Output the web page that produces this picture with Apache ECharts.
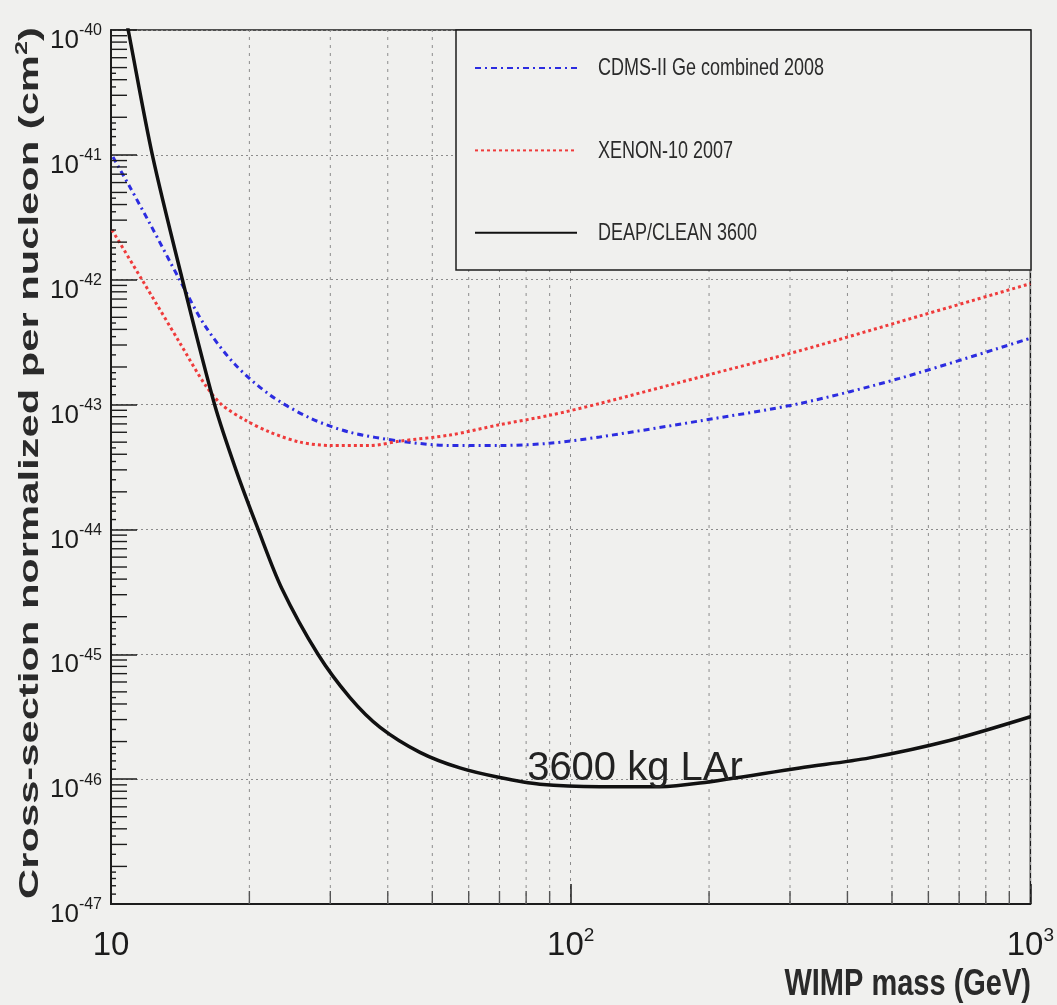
<!DOCTYPE html>
<html>
<head>
<meta charset="utf-8">
<title>WIMP-nucleon cross-section limits</title>
<script src="https://cdn.jsdelivr.net/npm/echarts@6/dist/echarts.min.js"></script>
<style>
  html, body { margin: 0; padding: 0; background: #f0f0ee; }
  #chart { width: 1057px; height: 1005px; }
</style>
</head>
<body>
<div id="chart"></div>
<script>
// ---- data: WIMP mass (GeV) and spin-independent cross-section per nucleon (cm^2) ----
const cdmsMass  = [10.1, 11.0, 12.16, 14.1, 16.0, 18.6, 22.2, 27.1, 33.1, 42.5, 54.6, 70.1, 90, 115.6, 191, 315, 519, 1000];
const cdmsSigma = [9.6e-42, 5.5e-42, 2.8e-42, 1.0e-42, 4.3e-43, 2.1e-43, 1.19e-43, 7.8e-44, 6.0e-44, 5.1e-44, 4.7e-44, 4.7e-44, 4.9e-44, 5.5e-44, 7.4e-44, 1.02e-43, 1.62e-43, 3.4e-43];

const xenonMass  = [10.05, 11.68, 14.13, 16.0, 17.4, 19.6, 22.2, 25.8, 30.0, 36.6, 42.5, 54.6, 70.1, 90, 115.6, 191, 315, 519, 1000];
const xenonSigma = [2.5e-42, 1.0e-42, 3.1e-43, 1.45e-43, 1.0e-43, 7.5e-44, 6.0e-44, 5.0e-44, 4.7e-44, 4.7e-44, 5.1e-44, 5.7e-44, 6.9e-44, 8.2e-44, 1.02e-43, 1.66e-43, 2.7e-43, 4.6e-43, 9.3e-43];

const deapMass  = [10.5, 10.9, 12.3, 14.3, 16.8, 18.7, 20.9, 23.5, 28.2, 33.1, 38.5, 47.0, 57.4, 70.1, 85.7, 115.6, 156, 191, 315, 447, 667, 1000];
const deapSigma = [2.0e-40, 1.0e-40, 1.0e-41, 1.0e-42, 1.0e-43, 3.0e-44, 1.0e-44, 3.4e-45, 1.0e-45, 4.5e-46, 2.6e-46, 1.64e-46, 1.23e-46, 1.03e-46, 9.1e-47, 8.7e-47, 8.7e-47, 9.3e-47, 1.23e-46, 1.48e-46, 2.04e-46, 3.16e-46];

const seriesNames = ['CDMS-II Ge combined 2008', 'XENON-10 2007', 'DEAP/CLEAN 3600'];
const curveNote = '3600 kg LAr';
const notePoint = [138, 1.2e-46];

// axis ranges and tick mantissas
const massRange = [10, 1000];
const sigmaExpRange = [-47, -40];          // cross-section axis, in decades
const massDecades = [10, 100];
const sigmaExponents = [-47, -46, -45, -44, -43, -42, -41];
const minorMantissas = [2, 3, 4, 5, 6, 7, 8, 9];
const tinyMantissas = [1.2, 1.4, 1.6, 1.8, 2.5, 3.5, 4.5];

// the cross-section axis is drawn in log10 units (cm^2 values are converted here)
const lg = v => Math.log10(v);
const pairs = (xs, ys) => xs.map((x, i) => [x, lg(ys[i])]);
const massMinor = [];
massDecades.forEach(d => minorMantissas.forEach(k => massMinor.push(k * d)));
const sigmaMinor = [], sigmaTiny = [];
sigmaExponents.forEach(e => {
  minorMantissas.forEach(k => sigmaMinor.push(k * Math.pow(10, e)));
  tinyMantissas.forEach(k => sigmaTiny.push(k * Math.pow(10, e)));
});

const FONT = "'Liberation Sans', Arial, Helvetica, sans-serif";
const INK = '#1c1c1c';
const TEXT = '#2a2a2a';

// short inward ticks on the left axis
function yTickSeries(values, len) {
  return {
    type: 'custom', silent: true, z: 3, clip: true,
    data: values.map(v => [massRange[0], lg(v)]),
    renderItem: (params, api) => {
      const p = api.coord([api.value(0), api.value(1)]);
      return { type: 'line', shape: { x1: p[0], y1: p[1], x2: p[0] + len, y2: p[1] },
               style: { stroke: INK, lineWidth: 1.4 } };
    }
  };
}

// dotted vertical grid + inward bottom tick at each minor mass value
const massGridSeries = {
  type: 'custom', silent: true, z: 1, clip: true,
  data: massMinor.map(v => [v, sigmaExpRange[0]]),
  renderItem: (params, api) => {
    const v = api.value(0);
    const b = api.coord([v, sigmaExpRange[0]]);
    const t = api.coord([v, sigmaExpRange[1]]);
    return { type: 'group', children: [
      { type: 'line', shape: { x1: b[0], y1: b[1], x2: t[0], y2: t[1] },
        style: { stroke: '#8c8c8c', lineWidth: 1, lineDash: [3, 5] } },
      { type: 'line', shape: { x1: b[0], y1: b[1], x2: b[0], y2: b[1] - 13 },
        style: { stroke: '#555', lineWidth: 1.4 } }
    ] };
  }
};

// legend labels, drawn slightly tall like the frame's other lettering
const legendRows = [69, 152, 234];
const legendLabels = seriesNames.map((name, i) => ({
  type: 'text', z: 7, silent: true, x: 598, y: legendRows[i], scaleY: 1.3,
  style: { text: name, fontSize: 18, fontFamily: FONT, fill: TEXT, align: 'left', verticalAlign: 'middle' }
}));

const chart = echarts.init(document.getElementById('chart'), null, { renderer: 'canvas' });

chart.setOption({
  animation: false,
  backgroundColor: '#f0f0ee',
  grid: { left: 111, right: 26, top: 30, bottom: 101, show: true,
          borderColor: INK, borderWidth: 1.5, backgroundColor: '#f0f0ee' },
  xAxis: {
    type: 'log', logBase: 10, min: massRange[0], max: massRange[1],
    axisLine: { show: true, onZero: false, lineStyle: { color: INK, width: 2 } },
    axisTick: { show: true, inside: true, length: 20, lineStyle: { color: INK, width: 1.5 } },
    splitLine: { show: true, lineStyle: { color: '#8c8c8c', width: 1, type: [3, 5] } },
    axisLabel: {
      margin: 22, color: INK,
      formatter: v => {
        const e = Math.round(Math.log10(v));
        return e === 1 ? '{b|10}' : '{b|10}{s|' + e + '}';
      },
      rich: {
        b: { fontSize: 33, lineHeight: 40, fontFamily: FONT, color: INK },
        s: { fontSize: 19, lineHeight: 12, verticalAlign: 'top', fontFamily: FONT, color: INK }
      }
    }
  },
  yAxis: {
    type: 'value', min: sigmaExpRange[0], max: sigmaExpRange[1], interval: 1,
    axisLine: { show: true, onZero: false, lineStyle: { color: INK, width: 2 } },
    axisTick: { show: true, inside: true, length: 26, lineStyle: { color: INK, width: 1.5 } },
    splitLine: { show: true, lineStyle: { color: '#8c8c8c', width: 1, type: [2, 3] } },
    axisLabel: {
      margin: 9, color: INK, padding: [22, 0, 0, 0],
      formatter: v => '{b|10}{s|' + Math.round(v) + '}',
      rich: {
        b: { fontSize: 26, lineHeight: 36, fontFamily: FONT, color: INK },
        s: { fontSize: 16, lineHeight: 10, verticalAlign: 'top', fontFamily: FONT, color: INK }
      }
    }
  },
  legend: {
    data: seriesNames,
    orient: 'vertical', left: 474, top: 60, padding: 0,
    itemWidth: 102, itemHeight: 16, itemGap: 68, z: 6,
    itemStyle: { opacity: 0 },
    formatter: () => '',
    textStyle: { fontSize: 1 }
  },
  graphic: [
    { type: 'rect', z: 5, silent: true,
      shape: { x: 456, y: 30, width: 575, height: 240 },
      style: { fill: '#f0f0ee', stroke: INK, lineWidth: 1.5 } },
    ...legendLabels,
    { type: 'text', z: 6, silent: true,
      x: 30, y: 463, rotation: Math.PI / 2, scaleX: 1.49, scaleY: 1,
      style: {
        text: '{t|Cross-section normalized per nucleon (cm}{s|2}{t|)}',
        align: 'center', verticalAlign: 'middle',
        rich: {
          t: { fontSize: 28, fontWeight: 'bold', fontFamily: FONT, fill: TEXT, lineHeight: 32 },
          s: { fontSize: 17, fontWeight: 'bold', fontFamily: FONT, fill: TEXT, lineHeight: 12, verticalAlign: 'top' }
        }
      } },
    { type: 'text', z: 6, silent: true, x: 1031, y: 985, scaleY: 1.3,
      style: { text: 'WIMP mass (GeV)', fontSize: 29, fontWeight: 'bold', fontFamily: FONT, fill: TEXT,
               align: 'right', verticalAlign: 'middle' } }
  ],
  series: [
    massGridSeries,
    yTickSeries(sigmaMinor, 16),
    yTickSeries(sigmaTiny, 5),
    {
      name: seriesNames[0], type: 'line', data: pairs(cdmsMass, cdmsSigma),
      symbol: 'none', smooth: 0.3, z: 2, clip: true,
      lineStyle: { color: '#2c2ce0', width: 3, type: [6, 4, 2, 4] },
      itemStyle: { color: '#2c2ce0' }
    },
    {
      name: seriesNames[1], type: 'line', data: pairs(xenonMass, xenonSigma),
      symbol: 'none', smooth: 0.3, z: 2, clip: true,
      lineStyle: { color: '#ef3b3b', width: 3, type: [3, 3] },
      itemStyle: { color: '#ef3b3b' }
    },
    {
      name: seriesNames[2], type: 'line', data: pairs(deapMass, deapSigma),
      symbol: 'none', smooth: 0.3, z: 2, clip: true,
      lineStyle: { color: '#111', width: 3.5 },
      itemStyle: { color: '#111' },
      markPoint: {
        silent: true, symbol: 'circle', symbolSize: 1,
        itemStyle: { color: 'rgba(0,0,0,0)' },
        label: { show: true, position: 'inside', formatter: curveNote,
                 fontSize: 40, fontFamily: FONT, color: '#222' },
        data: [{ coord: [notePoint[0], lg(notePoint[1])] }]
      }
    }
  ]
});
</script>
</body>
</html>
